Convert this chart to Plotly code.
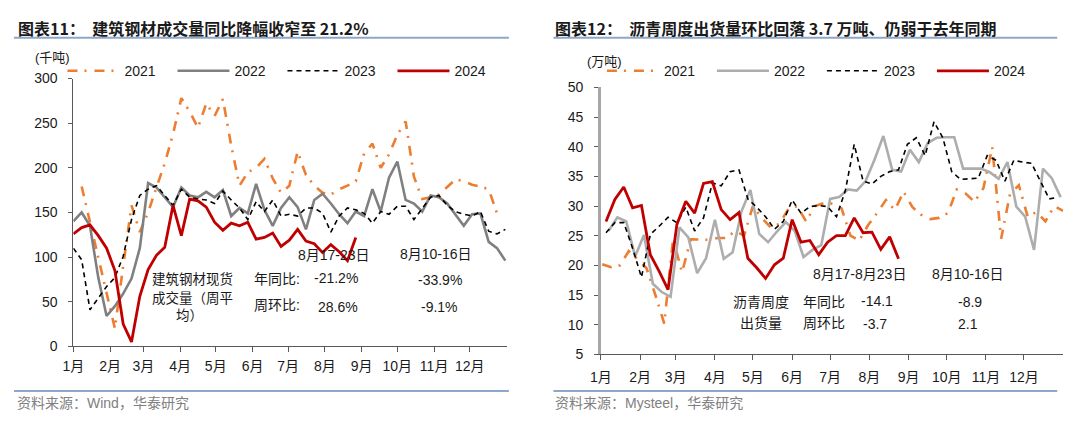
import pandas as pd
import plotly.graph_objects as go

# ---------------- data ----------------
month_labels = ["1月", "2月", "3月", "4月", "5月", "6月", "7月", "8月", "9月", "10月", "11月", "12月"]
years = ["2021", "2022", "2023", "2024"]

# 建筑钢材成交量（千吨，周均），weekly values
steel_2021 = [179, 140, 100, 62, 20, 90, 158, 128, 150, 178, 205, 238, 278, 263, 245, 272, 258,
              277, 225, 180, 195, 200, 210, 188, 172, 180, 218, 192, 180, 172, 170, 176, 180, 185,
              216, 227, 200, 215, 237, 252, 190, 165, 167, 170, 178, 187, 185, 181, 179, 176, 149]
steel_2022 = [140, 150, 135, 77, 34, 45, 59, 76, 110, 183, 178, 167, 156, 178, 169, 167, 173, 167,
              175, 146, 155, 149, 182, 153, 135, 155, 167, 156, 131, 164, 171, 160, 148, 138, 151,
              146, 176, 151, 189, 207, 164, 160, 151, 169, 167, 160, 148, 135, 148, 149, 117, 110, 96]
steel_2023 = [110, 97, 41, 54, 67, 77, 101, 142, 169, 176, 180, 169, 158, 176, 167, 165, 164, 160,
              174, 164, 155, 142, 162, 151, 164, 146, 148, 146, 155, 155, 149, 128, 146, 155, 153,
              149, 138, 151, 148, 157, 157, 142, 155, 167, 169, 158, 151, 148, 146, 151, 129, 126, 131]
steel_2024 = [126, 133, 136, 124, 110, 85, 25, 5, 56, 86, 102, 111, 158, 124, 165, 163, 156, 139,
              130, 138, 135, 139, 120, 122, 127, 112, 119, 131, 118, 115, 105, 114, 106, 96, 122]
steel_start = ["2023-01-08", "2023-01-01", "2023-01-01", "2023-01-01"]

# 沥青周度出货量（万吨）
asphalt_2021 = [20.2, 19.7, 20.0, 22.4, 21.0, 19.5, 15.0, 10.2, 24.5, 18.8, 24.4, 24.3, 24.3, 24.6,
                24.6, 25.8, 25.0, 30.0, 28.0, 26.4, 27.0, 29.5, 30.0, 27.4, 30.0, 30.5, 30.4, 29.6,
                25.0, 24.2, 26.8, 28.8, 31.0, 29.3, 32.4, 29.8, 28.5, 27.8, 28.0, 28.8, 32.8, 32.1,
                30.7, 33.0, 39.9, 24.5, 32.0, 33.5, 28.2, 29.0, 27.4, 30.0, 29.2]
asphalt_2022 = [25.8, 28.1, 27.4, 21.5, 25.1, 16.9, 15.5, 14.7, 26.4, 24.7, 18.7, 21.2, 27.7, 21.1,
                22.2, 29.1, 32.7, 25.3, 23.9, 25.7, 27.3, 25.8, 21.4, 22.6, 23.4, 31.2, 31.5, 32.8,
                32.6, 34.2, 37.8, 41.8, 36.1, 35.8, 39.5, 37.4, 40.6, 41.5, 41.6, 41.6, 36.3, 36.3,
                36.3, 35.7, 34.6, 37.4, 29.9, 28.2, 22.6, 36.3, 34.7, 31.5]
asphalt_2023 = [25.5, 27.2, 27.2, 22.9, 18.0, 25.2, 26.6, 28.1, 27.2, 29.8, 25.8, 28.0, 33.9, 33.4,
                35.8, 36.1, 31.2, 29.8, 28.2, 26.1, 27.4, 31.0, 28.8, 29.9, 30.1, 29.9, 28.2, 32.6,
                40.4, 34.2, 33.7, 35.0, 35.8, 36.1, 40.4, 41.5, 38.5, 44.2, 41.5, 35.8, 34.5, 34.6,
                34.7, 38.5, 37.7, 34.2, 37.7, 37.4, 37.2, 34.2, 31.2, 31.5]
asphalt_2024 = [27.4, 31.1, 33.2, 29.7, 30.1, 21.8, 19.0, 15.9, 26.9, 30.8, 28.8, 33.8, 34.1, 29.4,
                27.7, 28.9, 21.2, 19.6, 17.8, 20.1, 21.2, 27.7, 23.9, 24.2, 21.8, 23.9, 25.0, 25.0,
                28.0, 25.5, 25.6, 22.7, 24.8, 21.1]
asphalt_start = ["2023-01-02", "2023-01-07", "2023-01-05", "2023-01-05"]

# ---------------- styles ----------------
W, H = 1080, 422
FONT = "Liberation Sans, Arial, Noto Sans CJK SC, sans-serif"
CJK = "Noto Sans CJK SC, Liberation Sans, sans-serif"
styles_left = [
    dict(color="#ED7D31", width=2.6, dash="10px,7px,2px,8px"),
    dict(color="#808080", width=2.6, dash="solid"),
    dict(color="#000000", width=1.6, dash="5px,4px"),
    dict(color="#C00000", width=2.8, dash="solid"),
]
styles_right = [
    dict(color="#ED7D31", width=2.6, dash="10px,7px,2px,8px"),
    dict(color="#ADADAD", width=2.6, dash="solid"),
    dict(color="#000000", width=1.6, dash="5px,4px"),
    dict(color="#C00000", width=2.8, dash="solid"),
]


def px_x(p):
    return p / W


def px_y(p):
    return 1 - p / H


fig = go.Figure()
for yr, vals, start, st in zip(years, [steel_2021, steel_2022, steel_2023, steel_2024], steel_start, styles_left):
    fig.add_trace(go.Scatter(x=pd.date_range(start, periods=len(vals), freq="7D"), y=vals, name=yr,
                             mode="lines", line=st, xaxis="x", yaxis="y", legend="legend"))
for yr, vals, start, st in zip(years, [asphalt_2021, asphalt_2022, asphalt_2023, asphalt_2024], asphalt_start, styles_right):
    fig.add_trace(go.Scatter(x=pd.date_range(start, periods=len(vals), freq="7D"), y=vals, name=yr,
                             mode="lines", line=st, xaxis="x2", yaxis="y2", legend="legend2"))

month_ticks = pd.date_range("2023-01-01", periods=12, freq="MS")
axis_font = dict(family=FONT, size=14, color="#1a1a1a")

common_x = dict(type="date", range=["2023-01-01", "2024-01-01"], tickvals=month_ticks, ticktext=month_labels,
                ticks="outside", ticklen=5, showgrid=False, zeroline=False, showline=True,
                tickfont=axis_font, fixedrange=True)

fig.update_layout(
    width=W, height=H, autosize=False,
    margin=dict(l=0, r=0, t=0, b=0),
    paper_bgcolor="white", plot_bgcolor="white",
    showlegend=True,
    xaxis=dict(common_x, domain=[px_x(63), px_x(500.6)], anchor="y", linecolor="#595959", tickcolor="#595959",
               linewidth=1, ticklabelstandoff=2),
    yaxis=dict(domain=[px_y(351.7), px_y(73.3)], anchor="x", range=[0, 300], dtick=50, tick0=0,
               ticks="outside", ticklen=4, showgrid=False, zeroline=False, showline=True,
               linecolor="#595959", tickcolor="#595959", tickfont=axis_font, ticklabelstandoff=8),
    xaxis2=dict(common_x, domain=[px_x(596), px_x(1063)], anchor="y2", linecolor="#595959", tickcolor="#595959",
                linewidth=1, ticklabelstandoff=5),
    yaxis2=dict(domain=[px_y(360), px_y(82.5)], anchor="x2", range=[5, 50], dtick=5, tick0=5,
                ticks="outside", ticklen=4, showgrid=False, zeroline=False, showline=True,
                linecolor="#A6A6A6", linewidth=2.5, tickcolor="#595959", tickfont=axis_font,
                ticklabelstandoff=8),
    legend=dict(orientation="h", x=px_x(52), y=px_y(65.7), xanchor="left", yanchor="middle",
                font=dict(family=FONT, size=14, color="#1a1a1a"), bgcolor="rgba(0,0,0,0)",
                entrywidth=43, entrywidthmode="pixels", itemwidth=52, traceorder="normal"),
    legend2=dict(orientation="h", x=px_x(597), y=px_y(65.7), xanchor="left", yanchor="middle",
                 font=dict(family=FONT, size=14, color="#1a1a1a"), bgcolor="rgba(0,0,0,0)",
                 entrywidth=43, entrywidthmode="pixels", itemwidth=52, traceorder="normal"),
)

annotations = []


def ann(text, x, y, size=14, color="#1a1a1a", xanchor="center", family=FONT):
    annotations.append(dict(text=text, x=px_x(x), y=px_y(y), xref="paper", yref="paper",
                            xanchor=xanchor, yanchor="middle", showarrow=False,
                            font=dict(family=family, size=size, color=color)))


# titles
ann("<b>图表11：\u00a0\u00a0建筑钢材成交量同比降幅收窄至 21.2%</b>", 5, 20.5, size=16, xanchor="left", family=CJK)
ann("<b>图表12：\u00a0\u00a0沥青周度出货量环比回落 3.7 万吨、仍弱于去年同期</b>", 548, 20.5, size=16, xanchor="left", family=CJK)
# units
ann("(千吨)", 22, 51, size=13, xanchor="left")
ann("(万吨)", 580, 56, size=13, xanchor="left")
# sources
ann("资料来源：Wind，华泰研究", 4, 411, size=14, color="#808080", xanchor="left")
ann("资料来源：Mysteel，华泰研究", 548, 411, size=14, color="#808080", xanchor="left")

# left notes
ann("8月17-23日", 326, 257)
ann("8月10-16日", 429, 256)
ann("建筑钢材现货", 183.5, 282, size=13.5)
ann("成交量（周平", 183.5, 301, size=13.5)
ann("均）", 180, 319.5, size=13.5)
ann("年同比:", 243, 282, xanchor="left")
ann("周环比:", 243, 309, xanchor="left")
ann("-21.2%", 328, 281)
ann("28.6%", 330, 311)
ann("-33.9%", 433, 283)
ann("-9.1%", 433, 311)

# right notes
ann("8月17-8月23日", 857, 276)
ann("8月10-16日", 967, 276)
ann("沥青周度", 758, 306)
ann("出货量", 758, 327)
ann("年同比", 821, 306)
ann("周环比", 821, 327)
ann("-14.1", 875, 305)
ann("-3.7", 873, 328)
ann("-8.9", 969, 306)
ann("2.1", 967, 328)

shapes = []
for x0, x1 in [(3, 503), (548, 1057)]:
    for yy in (31, 398):
        shapes.append(dict(type="line", xref="paper", yref="paper", x0=px_x(x0), x1=px_x(x1),
                           y0=px_y(yy), y1=px_y(yy), line=dict(color="#8EA6C9", width=2)))

fig.update_layout(annotations=annotations, shapes=shapes)
fig.write_html("out.html", config={"displayModeBar": False},
               post_script="document.body.style.margin='0';document.body.style.overflow='hidden';")
